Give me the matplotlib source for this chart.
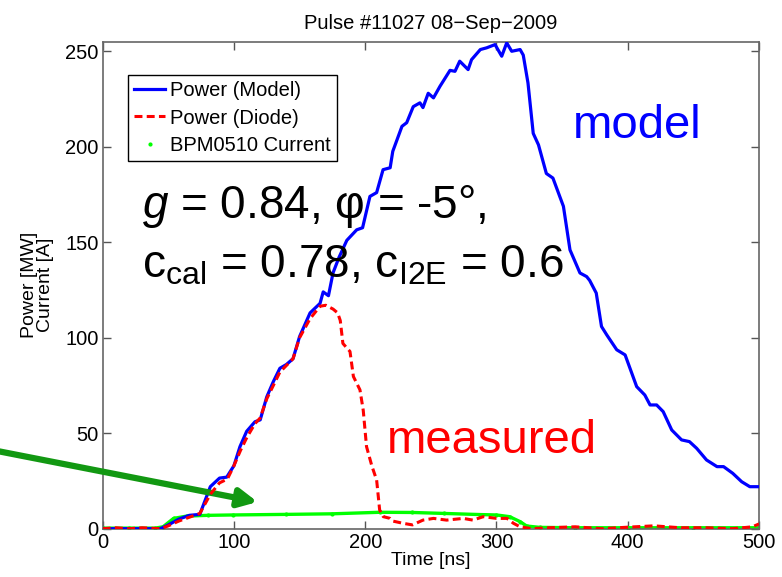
import matplotlib
matplotlib.use("Agg")
import matplotlib.pyplot as plt
from matplotlib.lines import Line2D

plt.rcParams['font.family'] = ['Liberation Sans', 'DejaVu Sans']
plt.rcParams['mathtext.fontset'] = 'custom'
plt.rcParams['mathtext.rm'] = 'Liberation Sans'
plt.rcParams['mathtext.it'] = 'Liberation Sans:italic'

# Power (Model) -- time [ns], power [MW]
t_model = [0, 20, 44, 50, 58, 66, 74, 82, 89, 94.5, 100, 104.6, 109.7, 116, 120, 125, 130, 135, 140, 145,
           150, 158, 165.6, 168, 172, 175.5, 180, 186, 193.5, 198, 203.6, 208.7, 213.6, 219, 221, 228, 231.6,
           236.6, 241.7, 244, 248, 252, 257, 264.6, 268.4, 272, 278.4, 281, 287.7, 292.5, 298.9, 304, 307.8,
           311.6, 318, 320.4, 324, 328, 332, 338, 343, 351, 356, 363.6, 368.7, 371, 376, 380, 384, 391.6,
           398, 406.8, 413, 417, 422, 427, 433.5, 441, 447, 452.5, 460, 468, 473, 480, 486.8, 493, 500]
p_model = [0, 0, 0, 2, 5, 7, 7.5, 22, 26.5, 27, 33, 43, 51, 56, 57, 69, 77, 84, 86, 89,
           100.6, 113, 118, 124, 122, 134, 142, 151, 156.5, 157.6, 174, 176, 188, 189, 197.6, 210.7, 212.6,
           221, 223, 220.5, 228, 225.6, 231.7, 240, 239.5, 244.8, 240.4, 245.6, 250.9, 251.8, 253.5, 247.4, 254.4,
           250, 250.9, 248, 233.4, 207, 201, 186, 183.6, 168.8, 146, 133.9, 132, 130, 123.4, 105.9, 101.5, 93.7,
           91, 74.4, 70, 64.8, 64.8, 61.3, 51.7, 46.5, 45.6, 42.1, 36, 32.5, 32.5, 29, 24.6, 22, 22]

# Power (Diode)
t_diode = [0, 10, 20, 30, 44, 50, 58, 66, 74, 82, 89, 95, 100, 105, 110, 116, 120, 125, 135, 145,
           150, 158, 165.6, 170, 175.5, 179, 181, 183, 188.4, 191, 196, 198.5, 201, 205, 208.7, 211, 213.8,
           219, 221, 229, 236, 244, 252, 262, 274.7, 282, 290, 300, 308, 313, 318, 327, 340, 360, 380,
           400, 420, 440, 460, 480, 495, 500]
p_diode = [0, 0.5, 0, 0.5, 0, 1.5, 4, 6, 8, 18, 24, 26, 33, 41, 48, 55, 58, 68, 82, 89,
           100, 110, 116.5, 117, 115, 113, 109, 97, 92.8, 79.7, 72.7, 62, 43, 33, 25.5, 9.8, 6.3,
           5.4, 4, 2.8, 2, 4.5, 5.4, 4.5, 5.4, 4.5, 6.3, 5.4, 5.4, 2.8, 1, 0, 0.5, 1, 0,
           0.8, 1.5, 0.5, 0.5, 0, 1, 2.5]

# BPM0510 Current [A]
t_bpm = [0, 20, 40, 46, 54, 64, 80, 99, 140, 175, 211, 236, 260, 287.7, 300, 310, 318, 323, 333,
         360, 400, 450, 500]
i_bpm = [0.3, 0.3, 0.3, 1, 5.4, 6.6, 7, 7.2, 7.5, 7.8, 8.6, 8.5, 8, 7.4, 7.2, 6.3, 3.7, 1.4, 0.7,
         0.5, 0.5, 0.5, 0.5]

xticks = [0, 100, 200, 300, 400, 500]
yticks = [0, 50, 100, 150, 200, 250]

W, H = 782, 577
fig = plt.figure(figsize=(W / 100, H / 100), dpi=100)
ax = fig.add_axes([0.1313, 0.0837, 0.9706 - 0.1313, 0.9277 - 0.0837])

green = (0, 1, 0)
ax.plot(t_bpm, i_bpm, color=green, lw=2.4, marker='.', ms=4, zorder=2)
l1, = ax.plot(t_model, p_model, color='#0000ff', lw=2.3, zorder=3)
l2, = ax.plot(t_diode, p_diode, color='#ff0000', lw=2.2, dashes=(2.6, 1.4), zorder=4)
l3 = Line2D([], [], color=green, ls='none', marker='.', ms=4)

ax.set_xlim(0, 500)
ax.set_ylim(0, 255)
ax.set_xticks(xticks)
ax.set_yticks(yticks)
ax.tick_params(direction='in', length=6, width=1, color='#555555', labelsize=14.5,
               top=True, right=True, pad=3)
for s in ax.spines.values():
    s.set_color('#666666')
    s.set_linewidth(1.2)

ax.set_title('Pulse #11027 08\u2212Sep\u22122009', fontsize=14.5, pad=9)
ax.set_xlabel('Time [ns]', fontsize=14, labelpad=0)
ax.set_ylabel('Power [MW]\nCurrent [A]', fontsize=14, labelpad=8, linespacing=0.95)

leg = ax.legend([l1, l2, l3], ['Power (Model)', 'Power (Diode)', 'BPM0510 Current'],
                loc='upper left', bbox_to_anchor=(0.0386, 0.9316), borderaxespad=0,
                fontsize=14.5, handlelength=1.55, handletextpad=0.25, labelspacing=0.42,
                borderpad=0.3, fancybox=False, framealpha=1)
leg.get_frame().set_edgecolor('black')
leg.get_frame().set_linewidth(1.0)

fig.text(573 / W, 1 - 138 / H, 'model', color='#0000ff', fontsize=34, va='baseline')
fig.text(387 / W, 1 - 453 / H, 'measured', color='#ff0000', fontsize=34, va='baseline')

fig.text(142 / W, 1 - 218 / H, r'$\it{g}$' + ' = 0.84, \u03c6 = -5\u00b0,', fontsize=33, va='baseline')
fig.text(142 / W, 1 - 278 / H, r'c$_{\rm cal}$ = 0.78, c$_{\rm I2E}$ = 0.6', fontsize=33, va='baseline')

ax.annotate('', xy=(118, 14), xycoords='data',
            xytext=(-0.01, 1 - 450 / H), textcoords='figure fraction',
            arrowprops=dict(arrowstyle='-|>,head_length=1.1,head_width=0.55', color='#129812',
                            lw=4.5, shrinkA=0, shrinkB=0),
            annotation_clip=False)

fig.savefig('out.png', dpi=100)
